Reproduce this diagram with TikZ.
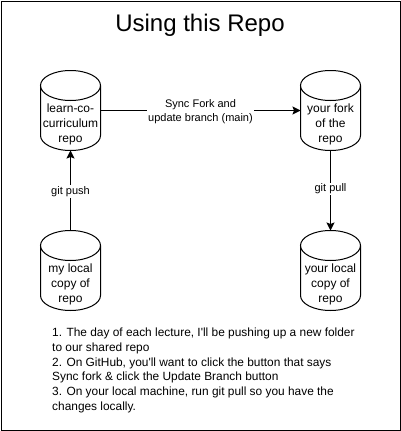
\documentclass[tikz,border=0pt]{standalone}
\usepackage{fontspec}
\setmainfont{Liberation Sans}[Ligatures=TeXOff]
\usetikzlibrary{positioning,arrows.meta}
\newcommand{\myrad}{15pt}
\tikzset{
    boxsty/.style={rectangle,minimum width=60pt,minimum height=80pt,inner sep=0pt,outer sep=0pt},
    cylsty/.style={line width=1pt},
    replblsty/.style={align=center,font=\fontsize{12}{14.8}\selectfont,inner sep=0pt},
    conxsty/.style={line width=1pt},
    edgesty/.style={fill=white,font=\fontsize{11}{14}\selectfont,align=center,inner sep=1pt},
}
% name, position, text
\newcommand{\repocyl}[3]{
  \node[boxsty] (#1) at (#2) {};
  \draw[cylsty] ([yshift=-\myrad]#1.north west) -- ([yshift=\myrad]#1.south west)
    arc[start angle=180,end angle=360,x radius=30pt,y radius=\myrad]
    -- ([yshift=-\myrad]#1.north east)
    arc[start angle=0,end angle=180,x radius=30pt,y radius=\myrad]
    arc[start angle=180,end angle=360,x radius=30pt,y radius=\myrad];
  \node[replblsty] (#1lbl) at ([yshift=-14pt]#1.center) {#3};
}
\begin{document}
\begin{tikzpicture}[>={Stealth[length=8pt,width=8pt,inset=1.5pt]},x=1pt,y=-1pt]
  \useasboundingbox (0,0) rectangle (401,431);
  \node[draw,line width=1pt,minimum width=399pt,minimum height=429pt,inner sep=0pt,outer sep=0pt] (frame) at (200.5,215.5) {};
  \node[font=\fontsize{24}{28}\selectfont] (title) at (200,25) {Using this Repo};

  \repocyl{shared}{70.5,110.5}{learn-co-\\curriculum\\repo}
  \repocyl{fork}{330.5,110.5}{your fork\\of the\\repo}
  \repocyl{mine}{70.5,270.5}{my local\\copy of\\repo}
  \repocyl{yours}{330.5,270.5}{your local\\copy of\\repo}

  \draw[->,conxsty] (shared.east) -- node[edgesty,yshift=-1pt]{Sync Fork and\\update branch (main)} (fork.west);
  \draw[->,conxsty] (mine.north) -- node[edgesty,yshift=-1pt]{git push} (shared.south);
  \draw[->,conxsty] (fork.south) -- node[edgesty,yshift=-1pt,pos=0.47]{git pull} (yours.north);

  \node[anchor=north west,inner sep=0pt,align=left,font=\fontsize{11.9}{14.7}\selectfont] (notes) at (52,328) {1. The day of each lecture, I'll be pushing up a new folder\\to our shared repo\\2. On GitHub, you'll want to click the button that says\\Sync fork \& click the Update Branch button\\3. On your local machine, run git pull so you have the\\changes locally.};
\end{tikzpicture}
\end{document}
